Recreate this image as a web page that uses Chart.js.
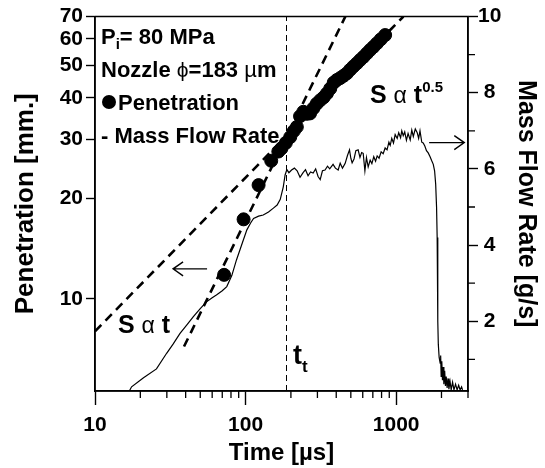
<!DOCTYPE html>
<html>
<head>
<meta charset="utf-8">
<script src="https://cdn.jsdelivr.net/npm/chart.js@4.4.0/dist/chart.umd.min.js"></script>
<style>
  html, body { margin: 0; padding: 0; background: #fff; }
</style>
</head>
<body>
<canvas id="spray" width="545" height="468"></canvas>
<script>
// Penetration [mm.] vs time [us]
const penTime = [72, 97, 122, 148, 165, 173, 185, 198, 209, 219, 230, 242, 255, 268, 282, 297, 313, 330, 347, 365,
  385, 404, 425, 447, 470, 495, 520, 548, 577, 607, 639, 672, 707, 745, 790, 845];
const penDepth = [11.8, 17.3, 21.9, 25.9, 27.6, 28.2, 29.3, 30.5, 31.8, 32.7, 35.2, 36.3, 35.8, 35.9, 37.2, 38.4, 39.3, 40.1, 41.2, 42.6,
  44.4, 45.2, 45.8, 46.5, 47.3, 48.5, 49.6, 50.7, 51.9, 53.0, 54.3, 55.6, 56.8, 58.2, 59.8, 61.6];

// Mass flow rate [g/s] vs time [us]
const flowTime = [16.9, 17.5, 21, 25.6, 29.9, 33, 36.7, 41, 45, 50, 55, 60, 64, 70, 75, 81, 87, 95, 102, 108,
  113, 122, 131, 142, 153, 162, 170, 178, 183, 188, 194, 202, 211, 220, 230, 241, 250, 260, 270, 281,
  292, 303, 313, 324, 337, 350, 362, 381, 395, 412, 425, 440, 458, 475, 490, 500, 510, 525, 540, 559,
  575, 590, 604, 620, 635, 652, 672, 690, 710, 730, 748, 770, 795, 820, 845, 870, 895, 913, 935, 960,
  985, 1016, 1040, 1070, 1090, 1114, 1140, 1170, 1200, 1240, 1270, 1300, 1340, 1380, 1410, 1440, 1480, 1512, 1550, 1590,
  1633, 1680, 1720, 1764, 1800, 1830, 1855, 1872, 1885, 1895, 1905, 1930, 1960, 1975, 1990, 2010, 2030, 2050, 2075, 2100,
  2125, 2150, 2180, 2210, 2240, 2280, 2320, 2370, 2420, 2480, 2540, 2600, 2660, 2720, 2760];
const flowRate = [0.17, 0.28, 0.52, 0.75, 1.16, 1.40, 1.68, 1.92, 2.12, 2.33, 2.51, 2.62, 2.69, 2.80, 2.91, 3.20, 3.61, 4.05, 4.40, 4.58,
  4.70, 4.76, 4.79, 4.87, 4.97, 5.05, 5.20, 5.53, 5.84, 5.98, 5.90, 5.97, 6.02, 5.95, 5.78, 5.90, 5.98, 5.82, 5.92, 5.89,
  6.00, 5.80, 5.72, 5.95, 5.97, 6.07, 6.00, 6.12, 6.02, 5.97, 6.15, 6.02, 6.14, 6.35, 6.50, 6.28, 6.16, 6.26, 6.48, 6.50,
  6.30, 6.43, 6.41, 5.95, 6.30, 6.05, 6.23, 6.14, 6.32, 6.20, 6.34, 6.28, 6.45, 6.40, 6.55, 6.50, 6.70, 6.62, 6.80, 6.68,
  6.90, 6.80, 6.95, 6.82, 7.00, 6.87, 6.97, 6.75, 6.93, 6.76, 7.02, 6.85, 7.05, 6.95, 6.80, 7.00, 6.70, 6.68, 6.60, 6.48,
  6.42, 6.32, 6.22, 6.12, 5.95, 5.60, 5.00, 4.20, 3.00, 2.00, 1.40, 1.05, 0.90, 1.10, 0.55, 0.95, 0.45, 0.80, 0.35, 0.70,
  0.30, 0.55, 0.25, 0.50, 0.22, 0.42, 0.20, 0.40, 0.20, 0.35, 0.20, 0.32, 0.20, 0.28, 0.20];

// fit lines S ~ t and S ~ t^0.5, and the transition time t_t
const steepTime = [39, 460];
const steepDepth = [7.2, 70];
const halfTime = [10, 1117];
const halfDepth = [8.0, 70];
const transTime = 187;

// arrows pointing at the axes of each curve
const leftArrow = { from: 55.5, to: 33, depth: 12.3 };
const rightArrow = { from: 1656, to: 2834, rate: 6.69 };

// ticks
const xTicks = [10, 20, 30, 40, 50, 60, 70, 80, 90, 100, 200, 300, 400, 500, 600, 700, 800, 900, 1000, 2000, 3000];
const xLabelled = [10, 100, 1000];
const yTicks = [10, 20, 30, 40, 50, 60, 70];
const y2Ticks = [1, 2, 3, 4, 5, 6, 7, 8, 9, 10];

const FONT = "'Liberation Sans', Arial, sans-serif";

const pts = (xs, ys) => xs.map((x, i) => ({ x: x, y: ys[i] }));

function drawRuns(ctx, x, y, runs) {
  runs.forEach(r => {
    ctx.font = (r.weight || 'bold') + ' ' + r.size + 'px ' + FONT;
    ctx.fillText(r.t, x, y + (r.dy || 0));
    x += ctx.measureText(r.t).width;
  });
}

function arrow(ctx, x1, y1, x2, y2) {
  const dir = Math.sign(x2 - x1);
  ctx.beginPath();
  ctx.moveTo(x1, y1);
  ctx.lineTo(x2, y2);
  ctx.moveTo(x2 - dir * 10, y2 - 7);
  ctx.lineTo(x2, y2);
  ctx.lineTo(x2 - dir * 10, y2 + 7);
  ctx.stroke();
}

const decorations = {
  id: 'decorations',
  afterDraw(chart) {
    const ctx = chart.ctx;
    const a = chart.chartArea;
    const sx = chart.scales.x, sy = chart.scales.y, sy2 = chart.scales.y2;
    ctx.save();
    ctx.strokeStyle = '#000';
    ctx.fillStyle = '#000';
    ctx.lineWidth = 1.5;
    ctx.strokeRect(a.left, a.top, a.right - a.left, a.bottom - a.top);

    // short minor ticks
    ctx.lineWidth = 1.3;
    ctx.beginPath();
    xTicks.filter(v => !xLabelled.includes(v)).forEach(v => {
      const px = sx.getPixelForValue(v);
      ctx.moveTo(px, a.bottom);
      ctx.lineTo(px, a.bottom + 7);
    });
    y2Ticks.filter(v => v % 2 === 1).forEach(v => {
      const py = sy2.getPixelForValue(v);
      ctx.moveTo(a.right, py);
      ctx.lineTo(a.right + 7, py);
    });
    ctx.stroke();

    // arrows
    ctx.lineWidth = 1.4;
    const ly = sy.getPixelForValue(leftArrow.depth);
    arrow(ctx, sx.getPixelForValue(leftArrow.from), ly, sx.getPixelForValue(leftArrow.to), ly);
    const ry = sy2.getPixelForValue(rightArrow.rate);
    arrow(ctx, sx.getPixelForValue(rightArrow.from), ry, sx.getPixelForValue(rightArrow.to), ry);

    // legend and notes
    ctx.textBaseline = 'alphabetic';
    ctx.textAlign = 'left';
    drawRuns(ctx, 101, 44, [{ t: 'P', size: 22 }, { t: 'i', size: 15, dy: 5 }, { t: '= 80 MPa', size: 22 }]);
    drawRuns(ctx, 101, 77, [{ t: 'Nozzle ', size: 22 }, { t: '\u03d5', size: 21, weight: 'normal' }, { t: '=183 ', size: 22 }, { t: '\u00b5', size: 22, weight: 'normal' }, { t: 'm', size: 22 }]);
    ctx.beginPath();
    ctx.arc(109, 102, 7, 0, Math.PI * 2);
    ctx.fill();
    drawRuns(ctx, 118, 110, [{ t: 'Penetration', size: 22 }]);
    drawRuns(ctx, 101, 143, [{ t: '- Mass Flow Rate', size: 22 }]);

    drawRuns(ctx, 370, 103, [{ t: 'S ', size: 25 }, { t: '\u03b1', size: 23, weight: 'normal' }, { t: ' t', size: 25 }, { t: '0.5', size: 15, dy: -11 }]);
    drawRuns(ctx, 118, 333, [{ t: 'S ', size: 25 }, { t: '\u03b1', size: 23, weight: 'normal' }, { t: ' t', size: 25 }]);
    drawRuns(ctx, 293, 364, [{ t: 't', size: 27 }, { t: 't', size: 17, dy: 8 }]);
    ctx.restore();
  }
};

const blackTick = c => c.tick && xLabelled.includes(c.tick.value) ? '#000' : 'rgba(0,0,0,0)';

new Chart(document.getElementById('spray'), {
  type: 'scatter',
  data: {
    datasets: [
      {
        label: 'Penetration',
        data: pts(penTime, penDepth),
        yAxisID: 'y',
        backgroundColor: '#000',
        borderColor: '#000',
        pointRadius: 6.5,
        pointHoverRadius: 6.5,
        showLine: false
      },
      {
        label: 'Mass Flow Rate',
        data: pts(flowTime, flowRate),
        yAxisID: 'y2',
        borderColor: '#000',
        borderWidth: 1.2,
        pointRadius: 0,
        showLine: true
      },
      {
        label: 'S ~ t',
        data: pts(steepTime, steepDepth),
        yAxisID: 'y',
        borderColor: '#000',
        borderWidth: 2.6,
        borderDash: [9, 6],
        pointRadius: 0,
        showLine: true
      },
      {
        label: 'S ~ t^0.5',
        data: pts(halfTime, halfDepth),
        yAxisID: 'y',
        borderColor: '#000',
        borderWidth: 2.6,
        borderDash: [9, 6],
        pointRadius: 0,
        showLine: true
      },
      {
        label: 't_t',
        data: [{ x: transTime, y: 5.3 }, { x: transTime, y: 70 }],
        yAxisID: 'y',
        borderColor: '#000',
        borderWidth: 1,
        borderDash: [6, 4],
        pointRadius: 0,
        showLine: true
      }
    ]
  },
  options: {
    responsive: false,
    animation: false,
    devicePixelRatio: 1,
    layout: { padding: { top: 16.5, left: 0, right: 0, bottom: 0 } },
    plugins: { legend: { display: false }, tooltip: { enabled: false } },
    scales: {
      x: {
        type: 'logarithmic',
        position: 'bottom',
        min: 10,
        max: 3000,
        afterBuildTicks: s => { s.ticks = xTicks.map(v => ({ value: v, major: xLabelled.includes(v) })); },
        afterFit: s => { s.height = 77; },
        ticks: {
          callback: v => xLabelled.includes(v) ? String(v) : '',
          autoSkip: false,
          maxRotation: 0,
          color: '#000',
          padding: 8,
          font: { family: FONT, size: 21, weight: 'bold' }
        },
        grid: { drawOnChartArea: false, tickLength: 14, tickWidth: 1.4, tickColor: blackTick },
        border: { color: '#000', width: 1.5 },
        title: {
          display: true,
          text: 'Time [\u00b5s]',
          color: '#000',
          padding: { top: 0, bottom: 0 },
          font: { family: FONT, size: 24, weight: 'bold' }
        }
      },
      y: {
        type: 'logarithmic',
        position: 'left',
        min: 5.3,
        max: 70,
        afterBuildTicks: s => { s.ticks = yTicks.map(v => ({ value: v })); },
        afterFit: s => { s.width = 95; },
        ticks: {
          callback: v => String(v),
          autoSkip: false,
          color: '#000',
          padding: 3,
          font: { family: FONT, size: 21, weight: 'bold' }
        },
        grid: { drawOnChartArea: false, tickLength: 9, tickWidth: 1.4, tickColor: '#000' },
        border: { color: '#000', width: 1.5 },
        title: {
          display: true,
          text: 'Penetration [mm.]',
          color: '#000',
          padding: { top: 10, bottom: 0 },
          font: { family: FONT, size: 26, weight: 'bold' }
        }
      },
      y2: {
        type: 'linear',
        position: 'right',
        min: 0.17,
        max: 10,
        afterBuildTicks: s => { s.ticks = y2Ticks.map(v => ({ value: v })); },
        afterFit: s => { s.width = 77; },
        ticks: {
          callback: v => v % 2 === 0 ? String(v) : '',
          autoSkip: false,
          crossAlign: 'center',
          color: '#000',
          padding: 0,
          font: { family: FONT, size: 21, weight: 'bold' }
        },
        grid: {
          drawOnChartArea: false,
          tickLength: 10,
          tickWidth: 1.4,
          tickColor: c => c.tick && c.tick.value % 2 === 0 ? '#000' : 'rgba(0,0,0,0)'
        },
        border: { color: '#000', width: 1.5 },
        title: {
          display: true,
          text: 'Mass Flow Rate [g/s]',
          color: '#000',
          padding: { top: 4, bottom: 0 },
          font: { family: FONT, size: 25, weight: 'bold' }
        }
      }
    }
  },
  plugins: [decorations]
});
</script>
</body>
</html>
